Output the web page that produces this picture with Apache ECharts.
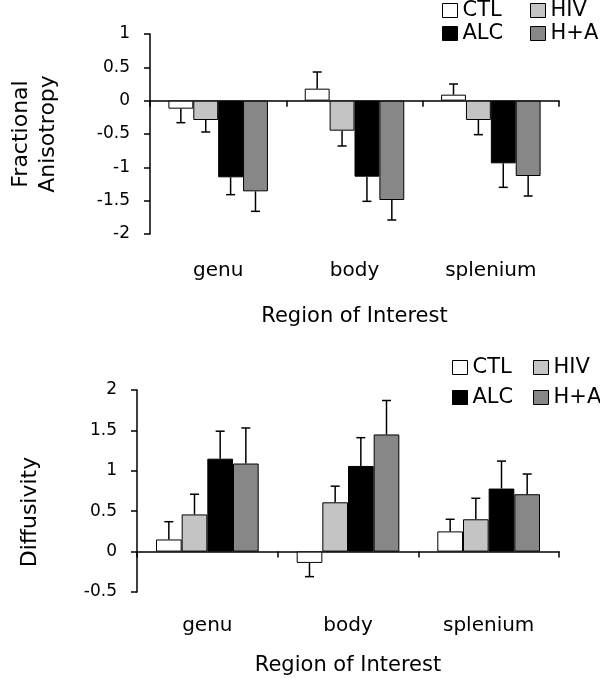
<!DOCTYPE html>
<html><head><meta charset="utf-8">
<script src="https://cdn.jsdelivr.net/npm/echarts@6/dist/echarts.min.js"></script>
<style>html,body{margin:0;padding:0;background:#fff}#c{width:600px;height:678px}</style>
</head><body><div id="c"></div>
<script>
const categories = ['genu', 'body', 'splenium'];
const groups = ['CTL', 'HIV', 'ALC', 'H+A'];
const groupColors = ['#ffffff', '#c4c4c4', '#000000', '#878787'];
const yTicksFA = [-2, -1.5, -1, -0.5, 0, 0.5, 1];
const yTicksDiff = [-0.5, 0, 0.5, 1, 1.5, 2];

// Fractional Anisotropy (top panel)
const faCTL = [-0.12, 0.18, 0.09];
const faHIV = [-0.29, -0.45, -0.29];
const faALC = [-1.15, -1.14, -0.94];
const faHA  = [-1.36, -1.49, -1.13];
const faErrCTL = [0.21, 0.25, 0.16];
const faErrHIV = [0.18, 0.23, 0.22];
const faErrALC = [0.26, 0.37, 0.36];
const faErrHA  = [0.30, 0.30, 0.30];

// Diffusivity (bottom panel)
const dCTL = [0.15, -0.14, 0.25];
const dHIV = [0.46, 0.61, 0.40];
const dALC = [1.15, 1.06, 0.78];
const dHA  = [1.09, 1.45, 0.71];
const dErrCTL = [0.22, 0.17, 0.15];
const dErrHIV = [0.25, 0.20, 0.26];
const dErrALC = [0.34, 0.35, 0.34];
const dErrHA  = [0.44, 0.42, 0.25];

const faVals = [faCTL, faHIV, faALC, faHA];
const faErrs = [faErrCTL, faErrHIV, faErrALC, faErrHA];
const dVals = [dCTL, dHIV, dALC, dHA];
const dErrs = [dErrCTL, dErrHIV, dErrALC, dErrHA];

const CAT_GAP = 0.27;
const FONT = 'DejaVu Sans';

function errRender(gi) {
  return function (params, api) {
    const j = api.value(0), v = api.value(1), e = api.value(2);
    const catW = api.size([1, 0])[0];
    const groupW = catW * (1 - CAT_GAP);
    const bw = groupW / groups.length;
    const cx = api.coord([j, 0])[0] - groupW / 2 + bw * (gi + 0.5);
    const y0 = api.coord([j, v])[1];
    const tip = v >= 0 ? v + e : v - e;
    const y1 = api.coord([j, tip])[1];
    const cap = 4.5;
    return {
      type: 'group',
      children: [
        { type: 'line', shape: { x1: cx, y1: y0, x2: cx, y2: y1 }, style: { stroke: '#000', lineWidth: 1.5 } },
        { type: 'line', shape: { x1: cx - cap, y1: y1, x2: cx + cap, y2: y1 }, style: { stroke: '#000', lineWidth: 1.5 } }
      ]
    };
  };
}

function panelSeries(vals, errs, xIdx, yIdx) {
  const out = [];
  groups.forEach((g, gi) => {
    out.push({
      name: g, type: 'bar', xAxisIndex: xIdx, yAxisIndex: yIdx,
      data: vals[gi], barGap: '0%', barCategoryGap: (CAT_GAP * 100) + '%',
      itemStyle: { color: groupColors[gi], borderColor: '#000', borderWidth: 1 },
      emphasis: { disabled: true }, z: 2
    });
  });
  groups.forEach((g, gi) => {
    out.push({
      name: g + ' err', type: 'custom', xAxisIndex: xIdx, yAxisIndex: yIdx,
      renderItem: errRender(gi),
      encode: { x: 0, y: 1 },
      data: categories.map((c, j) => [j, vals[gi][j], errs[gi][j]]),
      z: 3, silent: true
    });
  });
  return out;
}

function labelAxis(gridIndex, margin, nameGap) {
  return {
    type: 'category', gridIndex, data: categories, position: 'bottom',
    axisLine: { show: false, onZero: false }, axisTick: { show: false },
    axisLabel: { fontSize: 20, color: '#000', margin, fontFamily: FONT },
    name: 'Region of Interest', nameLocation: 'middle', nameGap,
    nameTextStyle: { fontSize: 21, color: '#000', fontFamily: FONT },
    splitLine: { show: false }
  };
}
function zeroAxis(gridIndex, yIdx) {
  return {
    type: 'category', gridIndex, data: categories, position: 'top',
    axisLine: { show: true, onZero: true, onZeroAxisIndex: yIdx, lineStyle: { color: '#000', width: 1.5 } },
    axisTick: { show: true, inside: true, length: 6, lineStyle: { color: '#000', width: 1.5 } },
    axisLabel: { show: false }, splitLine: { show: false }
  };
}
function valueAxis(gridIndex, ticks, name, nameGap, namePad) {
  return {
    type: 'value', gridIndex, min: ticks[0], max: ticks[ticks.length - 1], interval: 0.5,
    axisLine: { show: true, lineStyle: { color: '#000', width: 1.5 } },
    axisTick: { show: true, length: 6, lineStyle: { color: '#000', width: 1.5 } },
    axisLabel: { fontSize: 17, color: '#000', margin: 20, fontFamily: FONT },
    splitLine: { show: false },
    name, nameLocation: 'middle', nameGap,
    nameTextStyle: { fontSize: 22, lineHeight: 27, color: '#000', fontFamily: FONT, padding: namePad }
  };
}
function legendCol(names, left, top, gap) {
  return {
    data: names, orient: 'vertical', left, top, itemGap: gap, padding: 0,
    icon: 'rect', itemWidth: 15, itemHeight: 14, selectedMode: false,
    itemStyle: { borderColor: '#000', borderWidth: 1 },
    textStyle: { fontSize: 21, color: '#000', fontFamily: FONT }
  };
}

const chart = echarts.init(document.getElementById('c'), null, { renderer: 'canvas' });
chart.setOption({
  animation: false,
  backgroundColor: '#fff',
  textStyle: { fontFamily: FONT },
  grid: [
    { left: 137, top: 34, width: 422, height: 200 },
    { left: 137, top: 390, width: 422, height: 202 }
  ],
  legend: [
    legendCol(['CTL', 'ALC'], 442, 0, 2),
    legendCol(['HIV', 'H+A'], 530, 0, 2),
    legendCol(['CTL', 'ALC'], 452, 357, 9),
    legendCol(['HIV', 'H+A'], 533, 357, 9)
  ],
  xAxis: [
    labelAxis(0, 27, 72),
    zeroAxis(0, 0),
    labelAxis(1, 24, 63),
    zeroAxis(1, 1)
  ],
  yAxis: [
    valueAxis(0, yTicksFA, 'Fractional\nAnisotropy', 88, [0, 0, 0, 0]),
    valueAxis(1, yTicksDiff, 'Diffusivity', 93, [0, 42, 0, 0])
  ],
  series: [].concat(
    panelSeries(faVals, faErrs, 0, 0),
    panelSeries(dVals, dErrs, 2, 1)
  )
});
</script>
</body></html>
